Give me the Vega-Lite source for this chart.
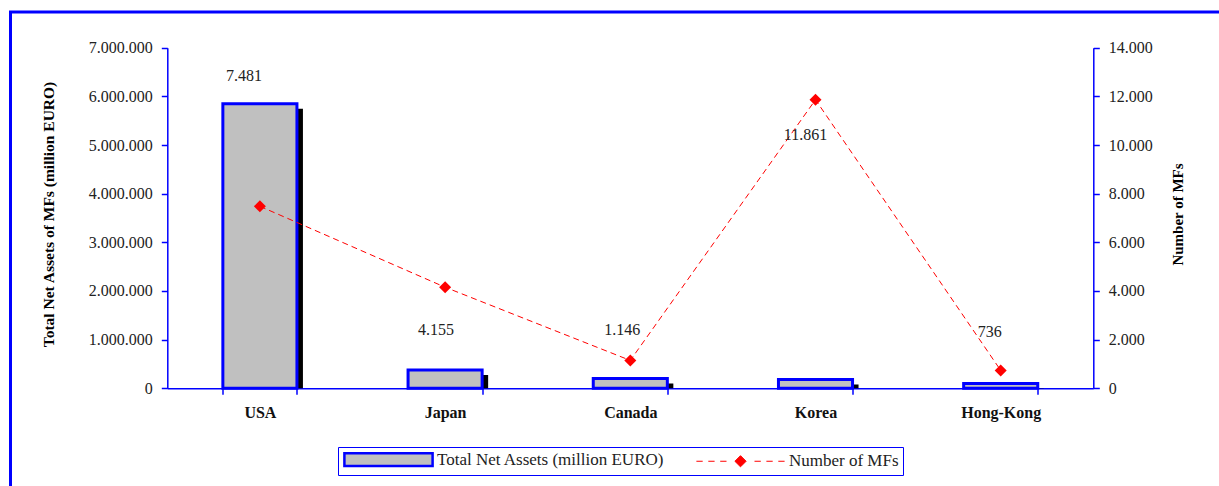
{
  "$schema": "https://vega.github.io/schema/vega-lite/v6.json",
  "width": 1212,
  "height": 480,
  "autosize": {"type": "none"},
  "padding": {"left": 10.5, "top": 12, "right": 0, "bottom": 0},
  "background": "white",
  "config": {
    "view": {"stroke": "#0000ff", "strokeWidth": 3},
    "locale": {"number": {"decimal": ",", "thousands": ".", "grouping": [3], "currency": ["", " €"]}},
    "font": "Liberation Serif",
    "axis": {
      "labelFont": "Liberation Serif",
      "titleFont": "Liberation Serif",
      "domainColor": "#0000ff",
      "tickColor": "#0000ff",
      "grid": false,
      "domainWidth": 1.5,
      "tickWidth": 1.5,
      "labelColor": "#222222",
      "titleColor": "#000000"
    }
  },
  "data": {
    "values": [
      {"country": "USA", "series": "Total Net Assets (million EURO)", "value": 5850000},
      {"country": "Japan", "series": "Total Net Assets (million EURO)", "value": 374000},
      {"country": "Canada", "series": "Total Net Assets (million EURO)", "value": 201000},
      {"country": "Korea", "series": "Total Net Assets (million EURO)", "value": 181000},
      {"country": "Hong-Kong", "series": "Total Net Assets (million EURO)", "value": 98500},
      {"country": "USA", "series": "Number of MFs", "value": 7481},
      {"country": "Japan", "series": "Number of MFs", "value": 4155},
      {"country": "Canada", "series": "Number of MFs", "value": 1146},
      {"country": "Korea", "series": "Number of MFs", "value": 11861},
      {"country": "Hong-Kong", "series": "Number of MFs", "value": 736}
    ]
  },
  "layer": [
    {
      "transform": [{"filter": "datum.series === 'Total Net Assets (million EURO)'"}],
      "encoding": {
        "x": {
          "field": "country", "type": "nominal", "sort": null,
          "scale": {"range": [156.8, 1082.8], "paddingInner": 0.6, "paddingOuter": 0.3},
          "axis": {
            "orient": "bottom", "offset": -103.7, "tickBand": "extent", "tickSize": 6,
            "labelFontSize": 16, "labelFontWeight": "bold", "labelColor": "#111111",
            "labelPadding": 10, "title": null, "labelAngle": 0
          }
        },
        "y": {
          "field": "value", "type": "quantitative",
          "scale": {"domain": [0, 7000000], "nice": false, "range": [376.3, 35.7]},
          "axis": {
            "orient": "left", "offset": -156.8,
            "values": [0, 1000000, 2000000, 3000000, 4000000, 5000000, 6000000, 7000000],
            "format": ",.0f", "tickSize": 6, "labelPadding": 9, "labelFontSize": 16,
            "title": "Total Net Assets of MFs (million EURO)",
            "titleFontSize": 15.5, "titleFontWeight": "bold",
            "titleX": -118.5, "titleY": 202, "titleAngle": 270,
            "titleAlign": "center", "titleBaseline": "middle"
          }
        }
      },
      "layer": [
        {
          "mark": {"type": "bar", "color": "#000000", "xOffset": 6, "yOffset": 5, "y2Offset": 0},
          "encoding": {"y2": {"datum": 0}}
        },
        {
          "mark": {"type": "bar", "stroke": "#0000ff", "strokeWidth": 3, "opacity": 1},
          "encoding": {
            "fill": {
              "field": "series", "type": "nominal",
              "scale": {"domain": ["Total Net Assets (million EURO)", "Number of MFs"], "range": ["#c0c0c0", "#ff0000"]},
              "legend": {
                "orient": "none", "legendX": 327.5, "legendY": 435,
                "direction": "horizontal", "title": null,
                "fillColor": "white", "strokeColor": "#0000ff", "padding": 4,
                "labelFont": "Liberation Serif", "labelFontSize": 17, "labelColor": "#222222",
                "labelLimit": 500,
                "symbolSize": 196, "symbolOffset": 38, "labelOffset": 40, "columnPadding": 29,
                "symbolOpacity": 1,
                "symbolType": {"expr": "datum.value === 'Number of MFs' ? 'M-6.3,0L-5.4,0M-4.6,0L-3.7,0M-2.9,0L-2,0M-0.8,0L0,-0.8L0.8,0L0,0.8ZM2,0L2.9,0M3.7,0L4.6,0M5.4,0L6.3,0' : 'M-6.3,-0.9L6.3,-0.9L6.3,0.9L-6.3,0.9Z'"},
                "symbolStrokeColor": {"expr": "datum.value === 'Number of MFs' ? '#ff0000' : '#0000ff'"},
                "symbolStrokeWidth": {"expr": "datum.value === 'Number of MFs' ? 1 : 2.5"}
              }
            }
          }
        }
      ]
    },
    {
      "transform": [{"filter": "datum.series === 'Number of MFs'"}],
      "encoding": {
        "x": {"field": "country", "type": "nominal", "sort": null},
        "y": {
          "field": "value", "type": "quantitative",
          "scale": {"domain": [0, 14000], "nice": false, "range": [376.3, 35.7]},
          "axis": {
            "orient": "right", "offset": -129.2,
            "values": [0, 2000, 4000, 6000, 8000, 10000, 12000, 14000],
            "format": ",.0f", "tickSize": 6, "labelPadding": 9, "labelFontSize": 16,
            "title": "Number of MFs",
            "titleFontSize": 15, "titleFontWeight": "bold",
            "titleX": 84, "titleY": 202, "titleAngle": 270,
            "titleAlign": "center", "titleBaseline": "middle"
          }
        }
      },
      "layer": [
        {"mark": {"type": "line", "color": "#ff0000", "strokeWidth": 1, "strokeDash": [6, 4]}},
        {
          "mark": {"type": "point", "shape": "diamond", "filled": true, "size": 144, "opacity": 1},
          "encoding": {"fill": {"field": "series", "type": "nominal"}}
        },
        {
          "mark": {
            "type": "text", "fontSize": 16, "font": "Liberation Serif", "color": "#222222",
            "align": "center", "baseline": "middle",
            "dx": {"expr": "datum.country === 'USA' ? -16 : datum.country === 'Japan' ? -9 : datum.country === 'Canada' ? -8 : datum.country === 'Korea' ? -10 : -11"},
            "dy": {"expr": "datum.country === 'USA' ? -130 : datum.country === 'Japan' ? 43 : datum.country === 'Canada' ? -30 : datum.country === 'Korea' ? 35 : -38"}
          },
          "encoding": {"text": {"field": "value", "type": "quantitative", "format": ","}}
        }
      ]
    }
  ],
  "resolve": {"scale": {"y": "independent"}, "axis": {"y": "independent"}}
}
